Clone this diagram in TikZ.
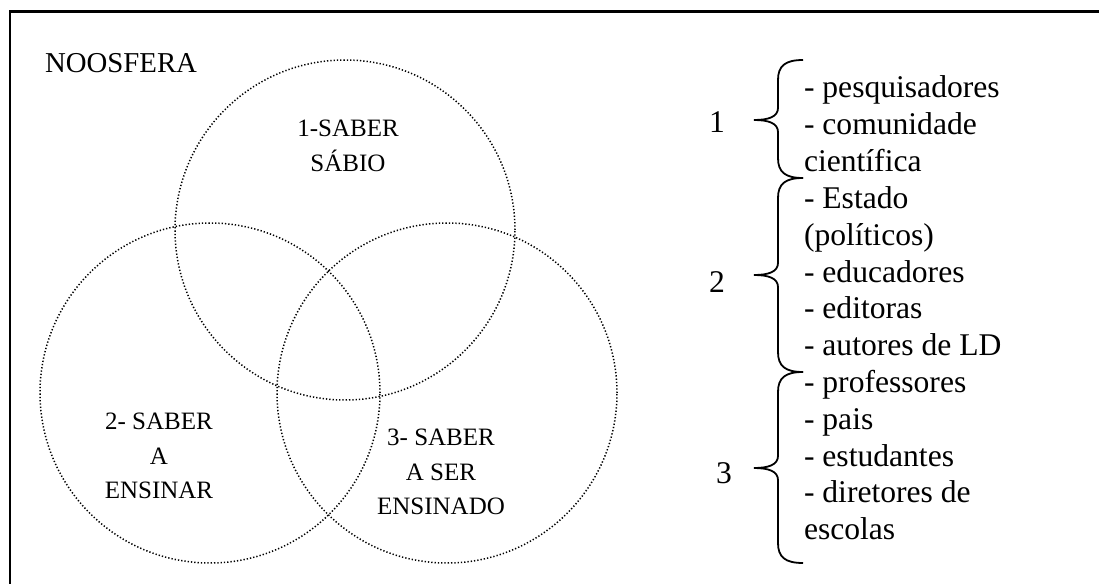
\documentclass[tikz,border=0pt]{standalone}
\usepackage{fontspec}
\setmainfont{Liberation Serif}
\begin{document}
\begin{tikzpicture}[x=1pt,y=-1pt,
  every node/.style={inner sep=0pt, outer sep=0pt},
  zone/.style={draw=black, line width=1.5pt, dash pattern=on 1.3pt off 2pt},
  frame/.style={draw=black, line width=2.2pt},
  curly/.style={draw=black, line width=1.8pt},
  listfont/.style={font=\fontsize{31.6}{36.8}\selectfont},
  labelfont/.style={font=\fontsize{25}{34.5}\selectfont, align=center},
]
\useasboundingbox (0,0) rectangle (1099,583);
\fill[white] (0,0) rectangle (1099,583);

% outer frame (only top and left edges fall inside the page)
\draw[frame] (10,600) -- (10,11.5) -- (1110,11.5);

% the three overlapping zones
\coordinate (csabio) at (345,230);
\coordinate (censinar) at (210,393);
\coordinate (censinado) at (447,393);
\draw[zone] (csabio) circle[radius=170pt];
\draw[zone] (censinar) circle[radius=170pt];
\draw[zone] (censinado) circle[radius=170pt];

\node[font=\fontsize{28.8}{34}\selectfont, anchor=base west] (noosfera) at (45,73) {NOOSFERA};
\node[labelfont] (sabio) at (348,146) {1-SABER\\SÁBIO};
\node[labelfont] (ensinar) at (159,456) {2- SABER\\A\\ENSINAR};
\node[labelfont] (ensinado) at (441,472) {3- SABER\\A SER\\ENSINADO};

% group numbers
\node[listfont, anchor=base] (n1) at (717,132) {1};
\node[listfont, anchor=base] (n2) at (717,292) {2};
\node[listfont, anchor=base] (n3) at (724,483) {3};

% curly brackets: top, bottom, tip
\foreach \a/\b/\t in {60/178/120, 178/372/275, 372/563/468}{
  \draw[curly] (803,\a) .. controls (785,\a) and (778,\a+6) .. (778,\a+20)
    -- (778,\t-12) .. controls (778,\t-3) and (768,\t) .. (754,\t)
    .. controls (768,\t) and (778,\t+3) .. (778,\t+12)
    -- (778,\b-20) .. controls (778,\b-6) and (785,\b) .. (803,\b);
}

% members of each group
\foreach \txt [count=\i from 0] in {- pesquisadores, - comunidade, científica,
  - Estado, (políticos), - educadores, - editoras, - autores de LD,
  - professores, - pais, - estudantes, - diretores de, escolas}{
  \node[listfont, anchor=base west] (item\i) at (804,98+36.8*\i) {\txt};
}
\end{tikzpicture}
\end{document}
